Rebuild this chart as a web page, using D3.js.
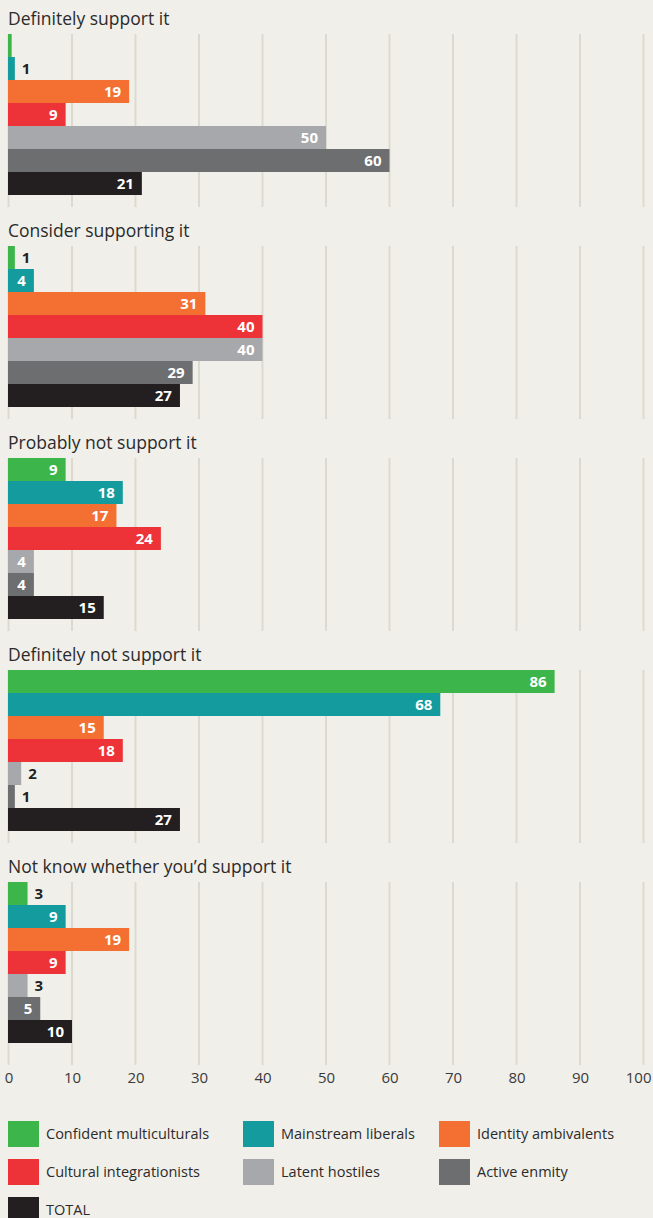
<!DOCTYPE html>
<html>
<head>
<meta charset="utf-8">
<script src="https://cdn.jsdelivr.net/npm/d3@7"></script>
<style>
  html, body { margin: 0; padding: 0; background: #f1efea; }
  svg { display: block; }
  text { font-family: "Open Sans", "Noto Sans", sans-serif; }
</style>
</head>
<body>
<div id="chart"></div>
<script>
// Respondent groups, in the order their bars are stacked inside each question
const groups = [
  "Confident multiculturals",
  "Mainstream liberals",
  "Identity ambivalents",
  "Cultural integrationists",
  "Latent hostiles",
  "Active enmity",
  "TOTAL"
];
const groupColors = ["#3cb54a", "#149b9e", "#f37032", "#ee3338", "#a7a8ab", "#6d6e70", "#231f20"];

// Answer options, one panel each
const questions = [
  "Definitely support it",
  "Consider supporting it",
  "Probably not support it",
  "Definitely not support it",
  "Not know whether you\u2019d support it"
];

// Share of each group (%) giving the answer
const definitelySupport = [0.5, 1, 19, 9, 50, 60, 21];
const considerSupporting = [1, 4, 31, 40, 40, 29, 27];
const probablyNot = [9, 18, 17, 24, 4, 4, 15];
const definitelyNot = [86, 68, 15, 18, 2, 1, 27];
const notKnow = [3, 9, 19, 9, 3, 5, 10];
const panelValues = [definitelySupport, considerSupporting, probablyNot, definitelyNot, notKnow];

const xTicks = [0, 10, 20, 30, 40, 50, 60, 70, 80, 90, 100];

const W = 653, H = 1218;
const panelTop = 34, panelStep = 212, barBlock = 161;

const svg = d3.select("#chart").append("svg")
  .attr("width", W).attr("height", H);

svg.append("rect").attr("width", W).attr("height", H).attr("fill", "#f1efea");

const x = d3.scaleLinear().domain([0, 100]).range([8.5, 643.5]);

const panelY = d3.scaleBand()
  .domain(questions)
  .range([panelTop, panelTop + panelStep * questions.length])
  .padding(0);

const barY = d3.scaleBand().domain(groups).range([0, barBlock]).padding(0);

const panels = svg.selectAll("g.panel")
  .data(questions.map((q, i) => ({ q, i, values: panelValues[i] })))
  .join("g")
  .attr("class", "panel")
  .attr("transform", d => `translate(0,${panelY(d.q)})`);

// Vertical gridlines behind the bars
panels.each(function (d) {
  const g = d3.select(this);
  const bottom = d.i === questions.length - 1 ? barBlock + 22 : barBlock + 12;
  g.selectAll("line.grid")
    .data(xTicks)
    .join("line")
    .attr("class", "grid")
    .attr("x1", t => x(t)).attr("x2", t => x(t))
    .attr("y1", 0).attr("y2", bottom)
    .attr("stroke", "#dcdacf")
    .attr("stroke-width", 2);
});

// Panel titles
panels.append("text")
  .attr("x", 8)
  .attr("y", -9)
  .attr("fill", "#2b2b2b")
  .attr("font-size", 17.5)
  .text(d => d.q);

// Bars
panels.selectAll("rect.bar")
  .data(d => d.values.map((v, j) => ({ v, group: groups[j], color: groupColors[j] })))
  .join("rect")
  .attr("class", "bar")
  .attr("x", x(0) - 0.5)
  .attr("y", d => barY(d.group))
  .attr("width", d => x(d.v) - x(0) + 0.5)
  .attr("height", barY.bandwidth())
  .attr("fill", d => d.color);

// Value labels: inside wide bars, just past the end of narrow ones
panels.selectAll("text.val")
  .data(d => d.values.map((v, j) => ({ v, group: groups[j] })).filter(d => d.v >= 1))
  .join("text")
  .attr("class", "val")
  .attr("x", d => d.v >= 4 ? x(d.v) - 8 : x(d.v) + 7)
  .attr("y", d => barY(d.group) + barY.bandwidth() / 2)
  .attr("dy", "0.36em")
  .attr("text-anchor", d => d.v >= 4 ? "end" : "start")
  .attr("fill", d => d.v >= 4 ? "#ffffff" : "#231f20")
  .attr("font-size", 15)
  .attr("font-weight", 700)
  .text(d => d3.format("d")(d.v));

// Bottom axis
const axisY = panelTop + panelStep * (questions.length - 1) + barBlock + 22;
const axis = svg.append("g")
  .attr("transform", `translate(0,${axisY})`)
  .call(d3.axisBottom(x).tickValues(xTicks).tickSize(0).tickPadding(7).tickFormat(d3.format("d")));
axis.select(".domain").remove();
axis.selectAll("text")
  .attr("font-size", 15)
  .attr("fill", "#3a3a3a")
  .style("font-family", "\"Open Sans\", \"Noto Sans\", sans-serif");
axis.selectAll(".tick").filter(d => d === 100).select("text")
  .attr("text-anchor", "end")
  .attr("x", W - 2 - x(100));

// Legend
const legendCols = [8, 243, 439];
const legendRows = [1121, 1159, 1197];
const legend = svg.append("g")
  .selectAll("g")
  .data(groups.map((g, i) => ({ g, i })))
  .join("g")
  .attr("transform", d => `translate(${legendCols[d.i % 3]},${legendRows[Math.floor(d.i / 3)]})`);
legend.append("rect")
  .attr("width", 31).attr("height", 26)
  .attr("fill", d => groupColors[d.i]);
legend.append("text")
  .attr("x", 38).attr("y", 13)
  .attr("dy", "0.36em")
  .attr("font-size", 14.5)
  .attr("fill", "#2b2b2b")
  .text(d => d.g);
</script>
</body>
</html>
